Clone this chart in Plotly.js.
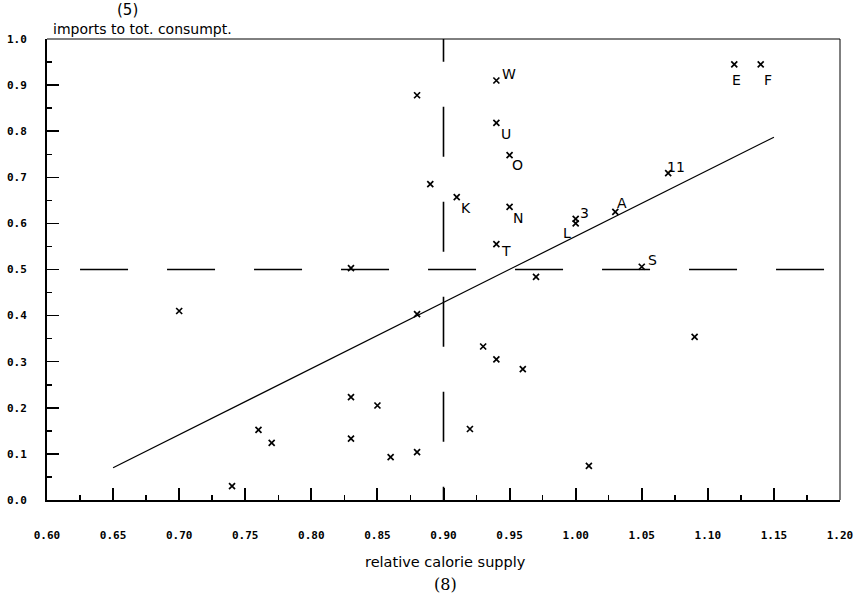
<!DOCTYPE html>
<html>
<head>
<meta charset="utf-8">
<script src="https://cdn.plot.ly/plotly-3.0.1.min.js"></script>
<style>
html,body{margin:0;padding:0;background:#fff;}
#chart{width:859px;height:600px;}
</style>
</head>
<body>
<div id="chart"></div>
<script>
// ---- data ----
var plainX = [0.70, 0.74, 0.76, 0.77, 0.83, 0.83, 0.83, 0.85, 0.86, 0.88, 0.88, 0.88, 0.89, 0.92, 0.93, 0.94, 0.96, 0.97, 1.01, 1.09];
var plainY = [0.41, 0.03, 0.152, 0.124, 0.503, 0.223, 0.133, 0.205, 0.093, 0.878, 0.403, 0.104, 0.685, 0.154, 0.333, 0.305, 0.284, 0.484, 0.074, 0.354];

var labelNames = ["W", "U", "O", "K", "N", "T", "L", "3", "A", "S", "11", "E", "F"];
var labelX = [0.94, 0.94, 0.95, 0.91, 0.95, 0.94, 1.00, 1.00, 1.03, 1.05, 1.07, 1.12, 1.14];
var labelY = [0.910, 0.818, 0.748, 0.657, 0.636, 0.555, 0.600, 0.610, 0.625, 0.506, 0.709, 0.945, 0.945];

var fitX = [0.65, 1.15];
var fitY = [0.07, 0.787];

var refX = 0.90;          // vertical dashed reference
var refY = 0.50;          // horizontal dashed reference
var refXSpan = [0.625, 1.2];
var refYSpan = [1.059, 0];

var xTickVals = [0.60, 0.65, 0.70, 0.75, 0.80, 0.85, 0.90, 0.95, 1.00, 1.05, 1.10, 1.15, 1.20];
var yTickVals = [0.0, 0.1, 0.2, 0.3, 0.4, 0.5, 0.6, 0.7, 0.8, 0.9, 1.0];

// ---- styling (label offsets in pixels from their marker) ----
var labelDx = [13, 10, 8, 9, 8, 10, -9, 9, 7, 11, 8, 2, 7];
var labelDy = [-6, 11, 10, 11, 11, 7, 10, -6, -9, -7, -6, 16, 16];
var markerStyle = {symbol: "x-thin-open", size: 6, color: "#000", line: {color: "#000", width: 1.7}};
var textFont = {family: "DejaVu Sans, sans-serif", size: 14, color: "#000"};
var tickFont = {family: "DejaVu Sans Mono, monospace", size: 11, color: "#000", weight: "bold"};

var traces = [
  {
    x: refXSpan, y: [refY, refY],
    mode: "lines", line: {color: "#000", width: 1.6, dash: "48px,39px"},
    hoverinfo: "skip", showlegend: false
  },
  {
    x: [refX, refX], y: refYSpan,
    mode: "lines", line: {color: "#000", width: 1.6, dash: "50px,45px"},
    hoverinfo: "skip", showlegend: false
  },
  {
    x: fitX, y: fitY, mode: "lines",
    line: {color: "#000", width: 1.2}, showlegend: false
  },
  {
    x: plainX, y: plainY, mode: "markers",
    marker: markerStyle, showlegend: false, cliponaxis: false
  },
  {
    x: labelX, y: labelY, mode: "markers",
    marker: markerStyle, showlegend: false, cliponaxis: false
  }
];

var annotations = [
  {text: "(5)", xref: "paper", yref: "paper", x: 0.102, y: 1.062, xanchor: "center", yanchor: "middle",
   showarrow: false, font: {family: "DejaVu Sans, sans-serif", size: 15, color: "#000"}},
  {text: "imports to tot. consumpt.", xref: "paper", yref: "paper", x: 0.005, y: 1.022, xanchor: "left", yanchor: "middle",
   showarrow: false, font: {family: "DejaVu Sans, sans-serif", size: 14, color: "#000"}},
  {text: "relative calorie supply", xref: "paper", yref: "paper", x: 0.503, y: -0.135, xanchor: "center", yanchor: "middle",
   showarrow: false, font: {family: "DejaVu Sans, sans-serif", size: 14.5, color: "#000"}},
  {text: "(8)", xref: "paper", yref: "paper", x: 0.502, y: -0.184, xanchor: "center", yanchor: "middle",
   showarrow: false, font: {family: "DejaVu Serif, serif", size: 16, color: "#000"}}
];
for (var i = 0; i < labelNames.length; i++) {
  annotations.push({
    text: labelNames[i], x: labelX[i], y: labelY[i], xref: "x", yref: "y",
    xanchor: "center", yanchor: "middle", showarrow: false,
    xshift: labelDx[i], yshift: -labelDy[i], font: textFont
  });
}

var layout = {
  width: 859, height: 600,
  margin: {l: 47, r: 19, t: 39, b: 100, pad: 0},
  paper_bgcolor: "#fff", plot_bgcolor: "#fff",
  showlegend: false,
  xaxis: {
    range: [0.6, 1.2], showgrid: false, zeroline: false,
    showline: true, linecolor: "#000", linewidth: 2,
    tickmode: "array", tickvals: xTickVals, tickformat: ".2f",
    ticks: "inside", ticklen: 12, tickwidth: 2, tickcolor: "#000",
    minor: {dtick: 0.025, tick0: 0.6, ticks: "inside", ticklen: 5, tickwidth: 1.5, tickcolor: "#000", showgrid: false},
    tickfont: tickFont, ticklabelstandoff: 24
  },
  yaxis: {
    range: [0, 1], showgrid: false, zeroline: false,
    showline: true, linecolor: "#000", linewidth: 2,
    tickmode: "array", tickvals: yTickVals, tickformat: ".1f",
    ticks: "inside", ticklen: 12, tickwidth: 1.5, tickcolor: "#000",
    minor: {dtick: 0.05, tick0: 0, ticks: "inside", ticklen: 5, tickwidth: 1.5, tickcolor: "#000", showgrid: false},
    tickfont: tickFont, ticklabelstandoff: 16
  },
  shapes: [
    {type: "line", xref: "paper", yref: "paper", x0: 0, x1: 1, y0: 1, y1: 1, line: {color: "#000", width: 1}},
    {type: "line", xref: "paper", yref: "paper", x0: 1, x1: 1, y0: 0, y1: 1, line: {color: "#000", width: 1}}
  ],
  annotations: annotations
};

Plotly.newPlot("chart", traces, layout, {displayModeBar: false, staticPlot: true});
</script>
</body>
</html>
